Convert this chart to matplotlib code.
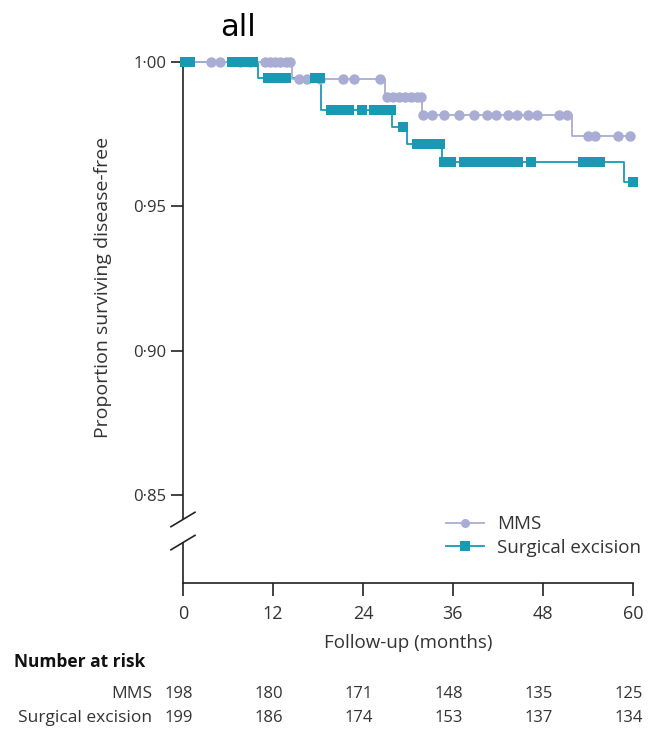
import matplotlib
matplotlib.use("Agg")
import matplotlib.pyplot as plt
import matplotlib.transforms as mtransforms
from matplotlib.lines import Line2D

plt.rcParams['font.family'] = ['Open Sans', 'DejaVu Sans']

# Kaplan-Meier steps (time in months, proportion disease-free)
mms_t = [0, 14.5, 26.9, 31.9, 51.9, 60]
mms_s = [1.000, 0.9941, 0.9880, 0.9818, 0.9745, 0.9745]
mms_cens_t = [3.8, 5.0, 7.6, 9.0, 10.9, 11.6, 12.3, 13.0, 13.7, 14.3,
              15.5, 16.5, 18.3, 21.4, 22.8, 26.3,
              27.2, 28.0, 28.8, 29.6, 30.4, 31.2, 31.7,
              32.0, 33.2, 34.8, 36.8, 38.8, 40.5, 41.8, 43.4, 44.5, 46.0, 47.2, 50.1, 51.2,
              54.0, 54.9, 58.0, 59.6]

sx_t = [0, 10.0, 18.4, 27.9, 29.9, 34.5, 58.8, 60]
sx_s = [1.000, 0.9943, 0.9835, 0.9776, 0.9717, 0.9652, 0.9583, 0.9583]
sx_cens_t = [0.3, 1.0, 6.6, 7.2, 8.3, 9.3,
             11.4, 12.2, 13.0, 13.7, 17.6, 18.3,
             19.8, 20.6, 21.4, 22.1, 23.9, 25.5, 26.3, 27.1, 27.7,
             29.3,
             31.2, 32.0, 32.8, 33.6, 34.3,
             34.8, 35.8, 37.5, 38.3, 39.1, 39.9, 40.7, 41.5, 42.3, 43.1, 43.9, 44.7, 46.4,
             53.3, 54.1, 54.9, 55.6,
             60.0]

risk_times = [0, 12, 24, 36, 48, 60]
risk_mms = [198, 180, 171, 148, 135, 125]
risk_sx = [199, 186, 174, 153, 137, 134]

y_ticks = [1.00, 0.95, 0.90, 0.85]
y_ticklabels = ['1·00', '0·95', '0·90', '0·85']

mms_color = '#a9add4'
sx_color = '#1a98b4'
axis_color = '#222222'
text_color = '#333333'


def level_at(times, levels, t):
    s = levels[0]
    for ti, si in zip(times, levels):
        if t >= ti:
            s = si
    return s


fig = plt.figure(figsize=(6.5, 7.32), dpi=100)
ax = fig.add_axes([0.2815, 0.2036, 0.6923, 0.7117])

ax.step(sx_t, sx_s, where='post', color=sx_color, lw=1.3, clip_on=False, zorder=2)
ax.step(mms_t, mms_s, where='post', color=mms_color, lw=1.3, clip_on=False, zorder=3)
ax.plot(mms_cens_t, [level_at(mms_t, mms_s, t) for t in mms_cens_t], 'o',
        color=mms_color, ms=7.5, mew=0, clip_on=False, zorder=4)
ax.plot(sx_cens_t, [level_at(sx_t, sx_s, t) for t in sx_cens_t], 's',
        color=sx_color, ms=7, mew=0, clip_on=False, zorder=5)

ax.set_xlim(0, 60)
ax.set_ylim(0.8195, 1.0)

ax.spines['top'].set_visible(False)
ax.spines['right'].set_visible(False)
ax.spines['left'].set_visible(False)
ax.spines['bottom'].set_color(axis_color)
ax.spines['bottom'].set_linewidth(1.2)

# broken y axis
ax.plot([0, 0], [1.0, 0.8415], color=axis_color, lw=1.2, clip_on=False, zorder=1)
ax.plot([0, 0], [0.8335, 0.8195], color=axis_color, lw=1.2, clip_on=False, zorder=1)
for yc in [0.8415, 0.8335]:
    ax.plot([-1.6, 1.6], [yc - 0.0025, yc + 0.0025], color=axis_color, lw=1.2,
            clip_on=False, zorder=1)

ax.set_xticks(risk_times)
ax.set_xticklabels([str(t) for t in risk_times])
ax.set_yticks(y_ticks)
ax.set_yticklabels(y_ticklabels)
ax.tick_params(axis='both', direction='out', length=9, width=1.2, color=axis_color,
               labelcolor=text_color)
ax.tick_params(axis='x', labelsize=13, pad=7)
ax.tick_params(axis='y', labelsize=12, pad=3)

ax.set_xlabel('Follow-up (months)', fontsize=13.5, color=text_color)
ax.xaxis.set_label_coords(0.5, -0.098)
ax.set_ylabel('Proportion surviving disease-free', fontsize=14, color=text_color)
ax.yaxis.set_label_coords(-0.158, 0.567)

handles = [Line2D([], [], color=mms_color, marker='o', ms=6.5, mew=0, lw=1.3),
           Line2D([], [], color=sx_color, marker='s', ms=6.5, mew=0, lw=1.3)]
leg = ax.legend(handles, ['MMS', 'Surgical excision'], loc='lower right',
                bbox_to_anchor=(1.055, 0.018), frameon=False, fontsize=13.5,
                handlelength=2.0, labelspacing=0.3, handletextpad=0.7)
for t in leg.get_texts():
    t.set_color(text_color)

fig.text(0.366, 0.962, 'all', fontsize=22, ha='center', va='center',
         family=['DejaVu Sans'])

# number at risk table
trans = mtransforms.blended_transform_factory(ax.transData, fig.transFigure)
fig.text(0.022, 0.095, 'Number at risk', fontsize=12.5, fontweight='bold',
         ha='left', va='center', color='#111111')
fig.text(0.234, 0.052, 'MMS', fontsize=12.5, ha='right', va='center', color=text_color)
fig.text(0.234, 0.019, 'Surgical excision', fontsize=12.5, ha='right', va='center',
         color=text_color)
for t, a, b in zip(risk_times, risk_mms, risk_sx):
    ax.text(t - 0.6, 0.052, str(a), transform=trans, fontsize=12, ha='center',
            va='center', color=text_color)
    ax.text(t - 0.6, 0.019, str(b), transform=trans, fontsize=12, ha='center',
            va='center', color=text_color)

fig.savefig('out.png', dpi=100)
